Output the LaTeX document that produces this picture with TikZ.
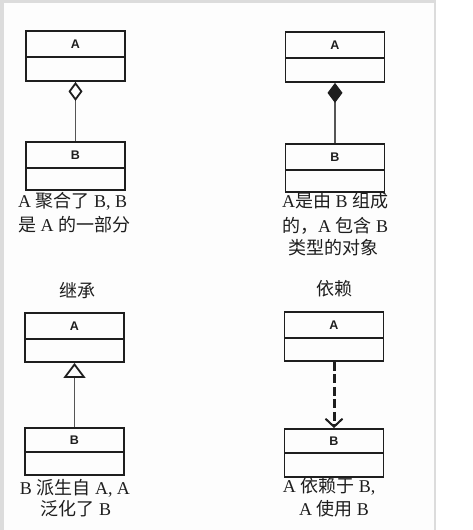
\documentclass[tikz,border=0pt]{standalone}
\usepackage{fontspec}
\setmainfont{Liberation Serif}
\newfontfamily\cjk{Noto Sans CJK SC}
\newfontfamily\lab{Liberation Sans}
\usetikzlibrary{arrows.meta}
\newcommand\zh[1]{{\cjk #1}}
\definecolor{ink}{HTML}{1E1E1E}
\definecolor{edge}{HTML}{DCDCDC}
\definecolor{paper}{HTML}{FDFDFD}
\definecolor{wire}{HTML}{555555}
\tikzset{
  cls/.style={draw=ink, line width=1.8pt, minimum width=99pt, inner sep=0pt,
    font=\lab\bfseries\fontsize{12.5}{12.5}\selectfont, text=ink},
  captxt/.style={inner sep=0pt, text=ink, font=\fontsize{18}{24}\selectfont},
  wirel/.style={draw=wire, line width=1.1pt},
}
\begin{document}
\begin{tikzpicture}[x=1pt,y=-1pt]
\useasboundingbox (0,0) rectangle (473,530);
\fill[paper] (0,0) rectangle (435,530);
\fill[white] (435,0) rectangle (473,530);
\fill[edge] (0,0) rectangle (4,530);
\fill[edge] (0,0) rectangle (435,3);
\fill[edge] (433.5,0) rectangle (436,530);

% panel 1: aggregation
\node[cls, minimum height=26pt] (a1) at (75.5,44) {A};
\node[cls, minimum height=24pt] (a1b) at (75.5,69) {};
\node[cls, minimum height=26pt] (b1) at (75.5,155) {B};
\node[cls, minimum height=22pt] (b1b) at (75.5,179) {};
\draw[wirel, {Diamond[open, length=19pt, width=14pt, line width=1.8pt, color=ink]}-] (a1b.south) -- (b1.north);
\node[captxt, anchor=base west] (c1a) at (18,207) {A \zh{聚合了} B, B};
\node[captxt, anchor=base west] (c1b) at (18,231) {\zh{是} A \zh{的一部分}};

% panel 2: composition
\node[cls, minimum height=26pt] (a2) at (335,45) {A};
\node[cls, minimum height=24pt] (a2b) at (335,70) {};
\node[cls, minimum height=26pt] (b2) at (335,157) {B};
\node[cls, minimum height=22pt] (b2b) at (335,181) {};
\draw[wirel, {Diamond[length=20pt, width=15pt, color=ink]}-] (a2b.south) -- (b2.north);
\node[captxt, anchor=base] (c2a) at (335,207) {A\zh{是由} B \zh{组成}};
\node[captxt, anchor=base] (c2b) at (335,232) {\zh{的，}A \zh{包含} B};
\node[captxt, anchor=base] (c2c) at (333,254) {\zh{类型的对象}};

% panel 3: inheritance
\node[captxt, anchor=base] (t3) at (77,297) {\zh{继承}};
\node[cls, minimum height=26pt] (a3) at (74.5,326) {A};
\node[cls, minimum height=23pt] (a3b) at (74.5,350.5) {};
\node[cls, minimum height=24pt] (b3) at (74.5,440) {B};
\node[cls, minimum height=23pt] (b3b) at (74.5,463.5) {};
\draw[wirel, {Triangle[open, length=15pt, width=22pt, line width=1.8pt, color=ink]}-] (a3b.south) -- (b3.north);
\node[captxt, anchor=base] (c3a) at (75,494) {B \zh{派生自} A, A};
\node[captxt, anchor=base] (c3b) at (76,515) {\zh{泛化了} B};

% panel 4: dependency
\node[captxt, anchor=base] (t4) at (334.5,295) {\zh{依赖}};
\node[cls, minimum height=26pt] (a4) at (334,325) {A};
\node[cls, minimum height=23pt] (a4b) at (334,349.5) {};
\node[cls, minimum height=24pt] (b4) at (334,441) {B};
\node[cls, minimum height=24pt] (b4b) at (334,465) {};
\draw[draw=ink, line width=3pt, dash pattern=on 9pt off 3.5pt,
  -{Straight Barb[length=8pt, width=17pt, line width=2pt]}] (a4b.south) -- (b4.north);
\node[captxt, anchor=base] (c4a) at (329,492) {A \zh{依赖于} B,};
\node[captxt, anchor=base] (c4b) at (334,515) {A \zh{使用} B};
\end{tikzpicture}
\end{document}
